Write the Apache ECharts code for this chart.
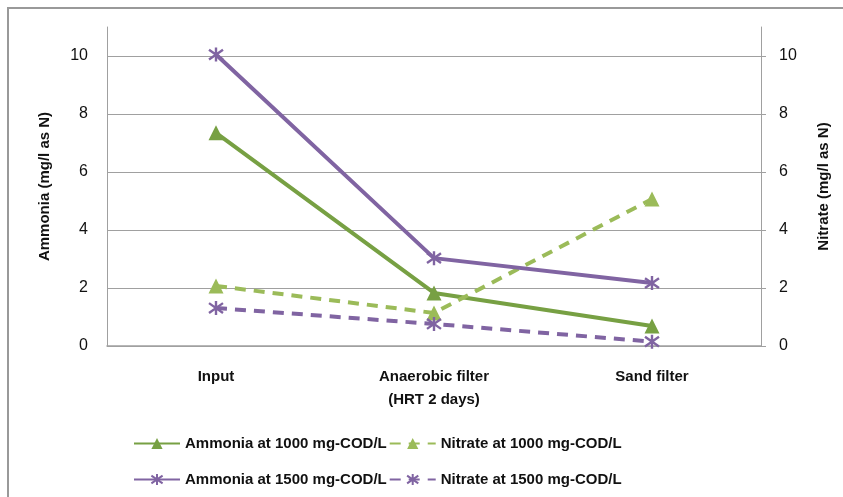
<!DOCTYPE html>
<html><head><meta charset="utf-8">
<script src="https://cdn.jsdelivr.net/npm/echarts@6/dist/echarts.min.js"></script>
<style>html,body{margin:0;padding:0;background:#fff}#c{width:843px;height:497px}</style>
</head><body><div id="c"></div>
<script>
const categories = ['Input', 'Anaerobic filter\n(HRT 2 days)', 'Sand filter'];
const ammonia1000 = [7.35, 1.83, 0.69];
const nitrate1000 = [2.07, 1.14, 5.07];
const ammonia1500 = [10.05, 3.03, 2.17];
const nitrate1500 = [1.31, 0.76, 0.15];
const seriesNames = ['Ammonia at 1000 mg-COD/L', 'Nitrate at 1000 mg-COD/L', 'Ammonia at 1500 mg-COD/L', 'Nitrate at 1500 mg-COD/L'];

const GREEN = '#77A043', LGREEN = '#9BBB59', PURPLE = '#8064A2';
const FONT = "'Liberation Sans', Arial, sans-serif";
const star = 'path://M5,0L5,10M1.5,1.5L8.5,8.5M1.5,8.5L8.5,1.5';

function mk(name, data, yIdx, color, dashed, sym) {
  return {
    name, type: 'line', data, yAxisIndex: yIdx,
    symbol: sym, symbolSize: sym === 'triangle' ? 15 : 14,
    lineStyle: { color, width: 4, type: dashed ? [11, 8] : 'solid' },
    itemStyle: { color, borderColor: color, borderWidth: sym === 'triangle' ? 0 : 2.4 },
    z: 3
  };
}

const legendBase = { left: 128, itemWidth: 46, itemHeight: 14, itemGap: 2,
  textStyle: { fontSize: 15, fontWeight: 'bold', color: '#111', fontFamily: FONT } };

const chart = echarts.init(document.getElementById('c'), null, { renderer: 'canvas' });
chart.setOption({
  animation: false,
  textStyle: { fontFamily: FONT },
  graphic: [{ type: 'rect', shape: { x: 8, y: 8, width: 900, height: 600 }, style: { fill: 'none', stroke: '#999', lineWidth: 2 } }],
  grid: { left: 107, right: 82, top: 27, bottom: 151 },
  legend: [
    Object.assign({ data: [seriesNames[0], seriesNames[1]], top: 431 }, legendBase),
    Object.assign({ data: [seriesNames[2], seriesNames[3]], top: 467 }, legendBase)
  ],
  xAxis: {
    type: 'category', data: categories, boundaryGap: true,
    axisLine: { lineStyle: { color: '#A0A0A0', width: 1.5 } },
    axisTick: { show: false },
    axisLabel: { color: '#111', fontSize: 15, fontWeight: 'bold', margin: 19, lineHeight: 23, fontFamily: FONT }
  },
  yAxis: [
    { type: 'value', min: 0, max: 11, interval: 2, position: 'left',
      name: 'Ammonia (mg/l as N)', nameLocation: 'middle', nameGap: 55, nameRotate: 90,
      nameTextStyle: { fontSize: 15, fontWeight: 'bold', color: '#111', fontFamily: FONT },
      axisLine: { show: true, lineStyle: { color: '#A0A0A0' } }, axisTick: { show: false },
      axisLabel: { color: '#111', fontSize: 16, margin: 19, showMaxLabel: false },
      splitLine: { show: true, showMaxLine: false, lineStyle: { color: '#A0A0A0', width: 1.2 } } },
    { type: 'value', min: 0, max: 11, interval: 2, position: 'right',
      name: 'Nitrate (mg/l as N)', nameLocation: 'middle', nameGap: 55, nameRotate: 90,
      nameTextStyle: { fontSize: 15, fontWeight: 'bold', color: '#111', fontFamily: FONT },
      axisLine: { show: true, lineStyle: { color: '#A0A0A0' } },
      axisTick: { show: true, inside: false, length: 5, lineStyle: { color: '#A0A0A0' } },
      axisLabel: { color: '#111', fontSize: 16, margin: 18, showMaxLabel: false },
      splitLine: { show: false } }
  ],
  series: [
    mk(seriesNames[0], ammonia1000, 0, GREEN, false, 'triangle'),
    mk(seriesNames[1], nitrate1000, 1, LGREEN, true, 'triangle'),
    mk(seriesNames[2], ammonia1500, 0, PURPLE, false, star),
    mk(seriesNames[3], nitrate1500, 1, PURPLE, true, star)
  ]
});
</script></body></html>
